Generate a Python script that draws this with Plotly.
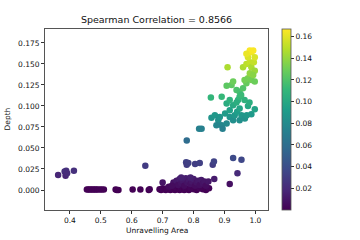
import plotly.graph_objects as go

unravelling_area = [
    0.362, 0.383, 0.388, 0.386, 0.391, 0.413,
    0.455, 0.460, 0.465, 0.470, 0.475, 0.480, 0.485, 0.490, 0.497, 0.503, 0.510,
    0.548, 0.552, 0.557, 0.603, 0.628, 0.655, 0.658, 0.644,
    0.690, 0.695, 0.700, 0.705, 0.710, 0.715, 0.720, 0.725, 0.730, 0.735, 0.740,
    0.745, 0.750, 0.755, 0.760, 0.765, 0.770, 0.775, 0.780, 0.785, 0.790, 0.800,
    0.810, 0.820, 0.830, 0.840, 0.850,
    0.735, 0.745, 0.750, 0.755, 0.760, 0.765, 0.770, 0.775, 0.780, 0.785, 0.790,
    0.795, 0.800, 0.805, 0.810, 0.815, 0.820, 0.825, 0.830, 0.835, 0.840, 0.848,
    0.720, 0.730, 0.700, 0.760, 0.790,
    0.776, 0.778, 0.783, 0.805, 0.820, 0.862, 0.866, 0.867, 0.928, 0.955, 0.942,
    0.917, 0.778, 0.818, 0.826,
    0.858, 0.869, 0.880, 0.891, 0.894, 0.907, 0.917, 0.928, 0.933, 0.949, 0.955,
    0.966, 0.972, 0.987, 0.998, 0.941, 0.885, 0.874, 0.902,
    0.907, 0.917, 0.928, 0.944, 0.949, 0.976, 0.965, 0.917, 0.939, 0.856, 0.891,
    0.949, 0.981,
    0.907, 0.923, 0.928, 0.939, 0.949, 0.960, 0.971, 0.976, 0.987, 0.998, 0.965,
    0.954,
    0.910, 0.960, 0.971, 0.982, 0.987, 0.995, 0.998, 0.982, 0.993, 0.976, 0.987,
    0.982, 0.993, 0.971, 0.998,
]
depth = [
    0.018, 0.022, 0.023, 0.017, 0.020, 0.023,
    0.0005, 0.0005, 0.0005, 0.0005, 0.0005, 0.0005, 0.0005, 0.0005, 0.0005, 0.0005, 0.0005,
    0.0005, 0.0, 0.0, 0.0005, 0.0005, 0.0, 0.001, 0.029,
    0.001, 0.0, 0.002, 0.001, 0.0, 0.002, 0.001, 0.0, 0.002, 0.001, 0.0,
    0.002, 0.001, 0.0, 0.002, 0.001, 0.0, 0.002, 0.001, 0.0, 0.002, 0.001,
    0.0, 0.002, 0.001, 0.0, 0.002,
    0.009, 0.011, 0.006, 0.013, 0.008, 0.011, 0.005, 0.014, 0.009, 0.012, 0.007,
    0.010, 0.013, 0.005, 0.009, 0.011, 0.006, 0.012, 0.008, 0.010, 0.005, 0.010,
    0.004, 0.005, 0.009, 0.015, 0.015,
    0.033, 0.030, 0.032, 0.031, 0.032, 0.030, 0.034, 0.013, 0.038, 0.036, 0.020,
    0.007, 0.059, 0.073, 0.073,
    0.086, 0.089, 0.083, 0.077, 0.073, 0.079, 0.087, 0.083, 0.089, 0.083, 0.089,
    0.085, 0.089, 0.090, 0.096, 0.093, 0.087, 0.077, 0.091,
    0.103, 0.107, 0.101, 0.107, 0.097, 0.100, 0.107, 0.095, 0.104, 0.110, 0.111,
    0.111, 0.104,
    0.124, 0.125, 0.129, 0.119, 0.117, 0.121, 0.127, 0.133, 0.131, 0.129, 0.131,
    0.113,
    0.146, 0.146, 0.150, 0.152, 0.146, 0.152, 0.142, 0.139, 0.137, 0.158, 0.164,
    0.166, 0.166, 0.162, 0.158,
]

title_text = "Spearman Correlation = 0.8566"
x_title = "Unravelling Area"
y_title = "Depth"
x_ticks = [0.4, 0.5, 0.6, 0.7, 0.8, 0.9, 1.0]
y_ticks = [0.0, 0.025, 0.05, 0.075, 0.1, 0.125, 0.15, 0.175]
cbar_ticks = [0.02, 0.04, 0.06, 0.08, 0.10, 0.12, 0.14, 0.16]

W, H = 360, 240
L, R, T, B = 45, 92, 29, 30
PW, PH = W - L - R, H - T - B

font = "DejaVu Sans"
fig = go.Figure(go.Scatter(
    x=unravelling_area, y=depth, mode="markers",
    marker=dict(
        size=6.5, color=depth, colorscale="Viridis", cmin=0, cmax=0.167,
        line=dict(width=0),
        colorbar=dict(
            thickness=9, len=1, lenmode="fraction", y=0.5, yanchor="middle",
            x=1 + 14 / PW, xanchor="left", xpad=0, ypad=0,
            outlinewidth=0.8, outlinecolor="#555",
            tickvals=cbar_ticks, ticktext=[f"{v:.2f}" for v in cbar_ticks],
            ticks="outside", ticklen=3, tickcolor="#333",
            tickfont=dict(family=font, size=7.5, color="#111"),
        ),
    ),
    showlegend=False,
))

axis_common = dict(
    showline=True, mirror=True, linecolor="#555", linewidth=0.8,
    ticks="outside", ticklen=3, tickcolor="#333", showgrid=False, zeroline=False,
    automargin=False,
    tickfont=dict(family=font, size=7.5, color="#111"),
)
fig.update_layout(
    width=W, height=H,
    margin=dict(l=L, r=R, t=T, b=B, autoexpand=False),
    paper_bgcolor="white", plot_bgcolor="white",
    title=dict(text=title_text, x=(L + L + PW) / 2 / W, xanchor="center",
               y=1 - 20 / H, yanchor="middle", automargin=False,
               font=dict(family=font, size=9.5, color="#111")),
    xaxis=dict(range=[0.3195, 1.0408], tickvals=x_ticks,
               ticktext=[f"{v:.1f}" for v in x_ticks], **axis_common),
    yaxis=dict(range=[-0.0238, 0.1916], tickvals=y_ticks,
               ticktext=[f"{v:.3f}" for v in y_ticks], **axis_common),
    annotations=[
        dict(text=x_title, xref="paper", yref="paper", x=0.5, y=-20 / PH,
             xanchor="center", yanchor="middle", showarrow=False,
             font=dict(family=font, size=7.5, color="#111")),
        dict(text=y_title, xref="paper", yref="paper", x=-38 / PW, y=0.5,
             xanchor="center", yanchor="middle", showarrow=False, textangle=-90,
             font=dict(family=font, size=7.5, color="#111")),
    ],
)

fig.write_html("out.html", config={"displayModeBar": False},
               post_script="document.body.style.margin='0';")
